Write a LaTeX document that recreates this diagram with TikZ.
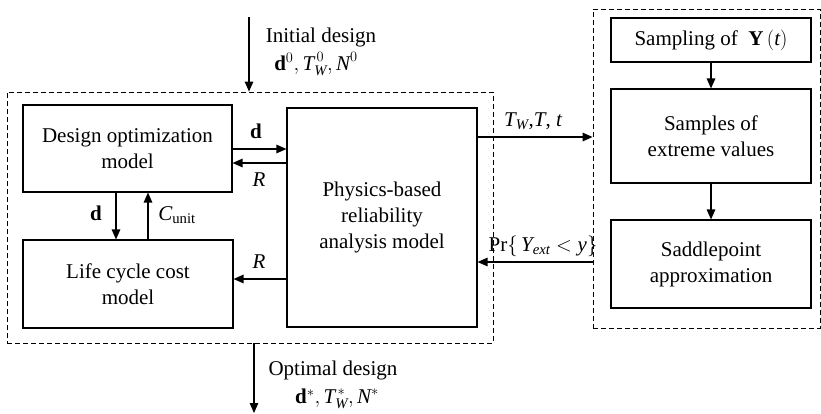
\documentclass[tikz,border=0pt]{standalone}
\usepackage{amsmath}
\usepackage{fontspec}
\setmainfont{Liberation Serif}
\usetikzlibrary{arrows.meta}
\begin{document}
\begin{tikzpicture}[x=1pt,y=-1pt,
  every node/.style={font=\fontsize{21}{26}\selectfont},
  blk/.style={draw, line width=1.1pt, align=center, inner sep=0pt},
  dbox/.style={draw, line width=0.8pt, dash pattern=on 5pt off 3pt, inner sep=0pt},
  conn/.style={line width=1.3pt, -{Triangle[length=10pt,width=8.5pt]}},
  lbl/.style={inner sep=0pt}]
\useasboundingbox (0,0) rectangle (821,413);
% dashed frames
\node[dbox, minimum width=486pt, minimum height=251pt] (left) at (250,217.5) {};
\node[dbox, minimum width=227pt, minimum height=319pt] (right) at (706.5,168.5) {};
% blocks
\node[blk, minimum width=209pt, minimum height=87pt] (opt) at (127.5,148.5) {Design optimization\\model};
\node[blk, minimum width=210pt, minimum height=88pt] (lcc) at (128,284) {Life cycle cost\\model};
\node[blk, minimum width=190pt, minimum height=219pt] (phys) at (382,217.5) {Physics-based\\reliability\\analysis model};
\node[blk, minimum width=200pt, minimum height=44pt] (samp) at (711,40) {Sampling of \ $\mathbf{Y}\,(\textit{t})$};
\node[blk, minimum width=200pt, minimum height=94pt] (ext) at (711,136) {Samples of\\extreme values};
\node[blk, minimum width=200pt, minimum height=88pt] (sad) at (711,264) {Saddlepoint\\approximation};
% input / output
\coordinate (in) at (249,17);
\coordinate (out) at (254,413);
\draw[conn] (in) -- (in |- left.north);
\draw[conn] (out |- left.south) -- (out);
\node[lbl] (initl) at (321,37) {Initial design};
\node[lbl] (initm) at (316,64) {$\mathbf{d}^0,\textit{T}_{\textit{W}}^{\,0},\textit{N}^0$};
\node[lbl] (optl) at (333,370) {Optimal design};
\node[lbl] (optm) at (337,399) {$\mathbf{d}^*,\textit{T}_{\textit{W}}^{\,*}, \textit{N}^*$};
% opt <-> phys
\draw[conn] (opt.east |- 0,149) -- (phys.west |- 0,149);
\draw[conn] (phys.west |- 0,163) -- (opt.east |- 0,163);
\node[lbl] (ld1) at (256,131) {$\mathbf{d}$};
\node[lbl] (lr1) at (259,180) {\textit{R}};
% opt <-> lcc
\draw[conn] (opt.south -| 116,0) -- (lcc.north -| 116,0);
\draw[conn] (lcc.north -| 148,0) -- (opt.south -| 148,0);
\node[lbl] (ld2) at (96,213) {$\mathbf{d}$};
\node[lbl] (lc) at (177,215) {$\textit{C}_{\text{unit}}$};
% phys -> lcc
\draw[conn] (phys.west |- 0,279) -- (lcc.east |- 0,279);
\node[lbl] (lr2) at (259,262) {\textit{R}};
% phys <-> right frame
\draw[conn] (phys.east |- 0,137) -- (right.west |- 0,137);
\draw[conn] (right.west |- 0,262) -- (phys.east |- 0,262);
\node[lbl] (ltw) at (533,121) {$\textit{T}_{\textit{W}}\textrm{,}\textit{T}\textrm{, }\textit{t}$};
\node[lbl] (lpr) at (543,246) {Pr$\{\,\textit{Y}_{\textit{ext}}<\textit{y}\}$};
% right chain
\draw[conn] (samp) -- (ext);
\draw[conn] (ext) -- (sad);
\end{tikzpicture}
\end{document}
